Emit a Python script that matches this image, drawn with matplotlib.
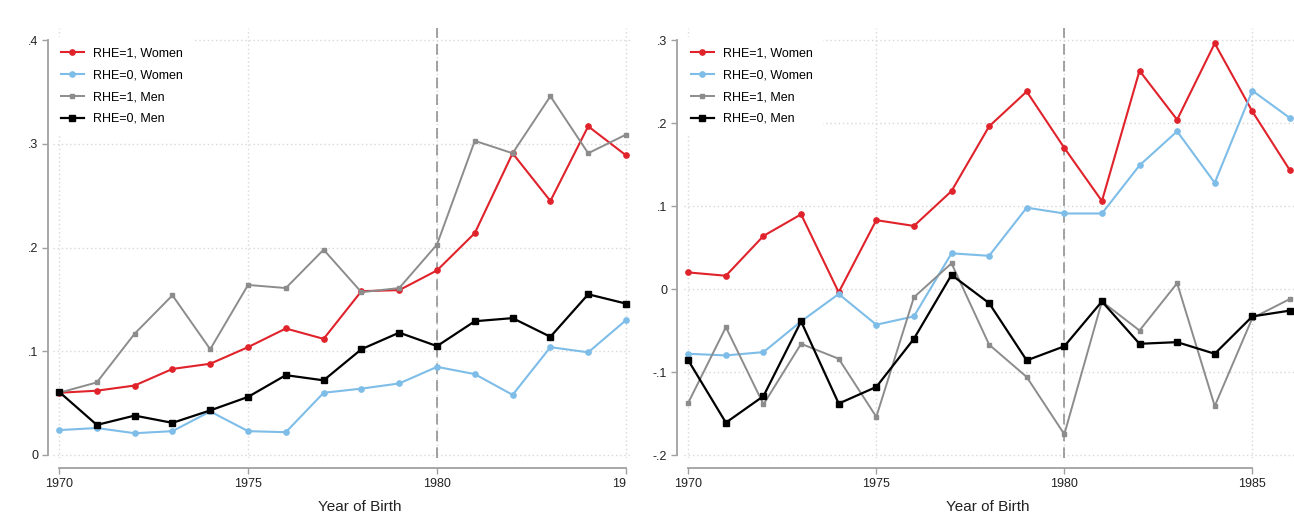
import matplotlib.pyplot as plt
from matplotlib.ticker import FuncFormatter
from matplotlib.transforms import Bbox, TransformedBbox

plt.rcParams.update({
    "font.family": ["Liberation Sans", "DejaVu Sans"],
    "font.size": 9,
})

RED, BLUE, GRAY, BLACK = "#e0222b", "#7dbde8", "#8c8c8c", "#000000"

years_left = list(range(1970, 1986))
years_right = list(range(1970, 1987))

# left panel
left_rhe1_women = [0.060, 0.062, 0.067, 0.083, 0.088, 0.104, 0.122, 0.112,
                   0.158, 0.159, 0.178, 0.214, 0.291, 0.245, 0.317, 0.289]
left_rhe0_women = [0.024, 0.026, 0.021, 0.023, 0.042, 0.023, 0.022, 0.060,
                   0.064, 0.069, 0.085, 0.078, 0.058, 0.104, 0.099, 0.130]
left_rhe1_men = [0.060, 0.070, 0.117, 0.154, 0.102, 0.164, 0.161, 0.198,
                 0.157, 0.161, 0.203, 0.303, 0.291, 0.346, 0.291, 0.309]
left_rhe0_men = [0.061, 0.029, 0.038, 0.031, 0.043, 0.056, 0.077, 0.072,
                 0.102, 0.118, 0.105, 0.129, 0.132, 0.114, 0.155, 0.146]

# right panel
right_rhe1_women = [0.020, 0.016, 0.064, 0.090, -0.004, 0.083, 0.076, 0.118, 0.196,
                    0.238, 0.170, 0.106, 0.263, 0.204, 0.296, 0.214, 0.143]
right_rhe0_women = [-0.078, -0.080, -0.076, -0.039, -0.006, -0.043, -0.033, 0.043, 0.040,
                    0.098, 0.091, 0.091, 0.149, 0.190, 0.128, 0.239, 0.206]
right_rhe1_men = [-0.137, -0.046, -0.139, -0.066, -0.084, -0.154, -0.010, 0.031, -0.067,
                  -0.106, -0.175, -0.015, -0.050, 0.007, -0.141, -0.035, -0.012]
right_rhe0_men = [-0.086, -0.161, -0.129, -0.039, -0.138, -0.118, -0.060, 0.017, -0.017,
                  -0.086, -0.069, -0.015, -0.066, -0.064, -0.078, -0.033, -0.026]

labels = ["RHE=1, Women", "RHE=0, Women", "RHE=1, Men", "RHE=0, Men"]
styles = [
    dict(color=RED, marker="o", ms=3.8, lw=1.5),
    dict(color=BLUE, marker="o", ms=3.8, lw=1.5),
    dict(color=GRAY, marker="s", ms=3.3, lw=1.4),
    dict(color=BLACK, marker="s", ms=5.0, lw=1.6),
]

W, H = 1294, 516
fig = plt.figure(figsize=(W / 100, H / 100), dpi=100)


def px_axes(x0, x1, y_top, y_bot):
    return fig.add_axes([x0 / W, 1 - y_bot / H, (x1 - x0) / W, (y_bot - y_top) / H])


def fmt(v, pos):
    s = f"{v:.1f}".replace("0.", ".")
    return "0" if abs(v) < 1e-9 else s


def style_panel(ax, years, series, xlim, ylim, yticks, xticks, left_out, label_x, leg_x):
    for ys, lab, st in zip(series, labels, styles):
        ax.plot(years, ys, label=lab, mec=st["color"], **st, zorder=3)
    ax.set_xlim(*xlim)
    ax.set_ylim(*ylim)
    ax.set_yticks(yticks)
    ax.set_xticks(xticks)
    ax.yaxis.set_major_formatter(FuncFormatter(fmt))
    ax.grid(True, linestyle=(0, (1, 2)), color="#d8d8d8", lw=1.0, zorder=0)
    ax.axvline(1980, color="#8a8a8a", lw=1.1, ls=(0, (7, 4)), zorder=2)
    for s in ["top", "right"]:
        ax.spines[s].set_visible(False)
    ax.spines["left"].set_position(("outward", left_out))
    ax.spines["bottom"].set_position(("outward", 7.2))
    ax.spines["left"].set_bounds(yticks[0], yticks[-1])
    ax.spines["bottom"].set_bounds(xticks[0], xticks[-1])
    for s in ["left", "bottom"]:
        ax.spines[s].set_color("#a0a0a0")
        ax.spines[s].set_linewidth(1.3)
    ax.tick_params(colors="#a0a0a0", labelcolor="#222222", length=4.5, width=1.0,
                   labelsize=9, pad=2.5)
    ax.set_xlabel("Year of Birth", fontsize=11, color="#222222")
    ax.xaxis.set_label_coords(label_x, -0.098)
    leg = ax.legend(loc="upper left", bbox_to_anchor=(leg_x, 0.979), borderaxespad=0,
                    frameon=True, facecolor="white", edgecolor="none", framealpha=1,
                    fontsize=9, handlelength=1.85, handletextpad=0.7,
                    labelspacing=0.78, borderpad=0.85, fancybox=False)
    leg.set_zorder(5)


ax1 = px_axes(53, 630, 28, 458)
style_panel(ax1, years_left,
            [left_rhe1_women, left_rhe0_women, left_rhe1_men, left_rhe0_men],
            (1969.84, 1985.106), (-0.0029, 0.4118), [0, 0.1, 0.2, 0.3, 0.4],
            [1970, 1975, 1980, 1985], 3.6, 0.532, -0.005)
# the left panel is cut off at its right edge, as in the source image
clip = TransformedBbox(Bbox([[0, 0], [626 / W, 1]]), fig.transFigure)
for lbl in ax1.get_xticklabels():
    lbl.set_clip_box(clip)
    lbl.set_clip_on(True)

ax2 = px_axes(684, 1294, 28, 458)
style_panel(ax2, years_right,
            [right_rhe1_women, right_rhe0_women, right_rhe1_men, right_rhe0_men],
            (1969.886, 1986.108), (-0.2036, 0.3145), [-0.2, -0.1, 0, 0.1, 0.2, 0.3],
            [1970, 1975, 1980, 1985], 5.0, 0.498, -0.0065)

fig.savefig("out.png", dpi=100, facecolor="white")
